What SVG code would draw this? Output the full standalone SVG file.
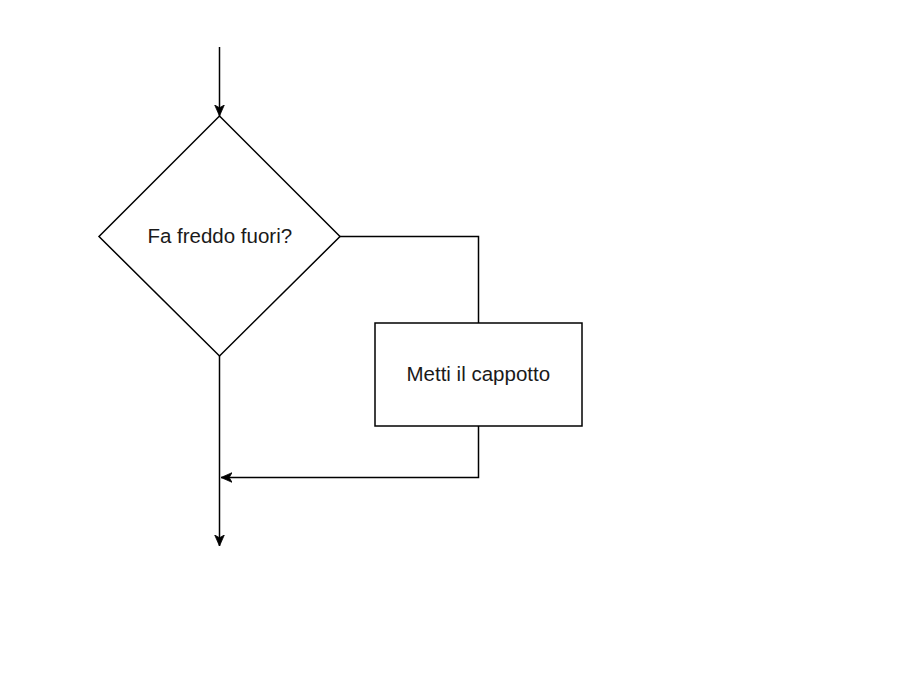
<svg xmlns="http://www.w3.org/2000/svg" width="911" height="684" viewBox="0 0 911 684">
<style>
.shape{fill:#ffffff;stroke:#000000;stroke-width:1.5}
.edge{fill:none;stroke:#000000;stroke-width:1.5}
.lbl{font-family:"Liberation Sans",Arial,sans-serif;font-size:20.5px;fill:#1a1a1a;text-anchor:middle}
</style>
<defs>
<marker id="arrow" markerUnits="userSpaceOnUse" markerWidth="14" markerHeight="12" viewBox="0 -6 14 12" refX="11" refY="0" orient="auto">
<path d="M0,-4.8 L11,0 L0,4.8 L2.8,0 Z" fill="#000000" stroke="#000000" stroke-width="0.8"/>
</marker>
</defs>
<rect width="911" height="684" fill="#ffffff"/>
<g id="connectors">
<path class="edge" d="M219.5,47 L219.5,116" marker-end="url(#arrow)"/>
<path class="edge" d="M340,236.5 L478.5,236.5 L478.5,323"/>
<path class="edge" d="M478.5,426 L478.5,477.5 L221,477.5" marker-end="url(#arrow)"/>
<path class="edge" d="M219.5,356 L219.5,546" marker-end="url(#arrow)"/>
</g>
<g id="decision">
<polygon class="shape" points="219.5,116 340,236.5 219.5,356 99,236.5"/>
<text class="lbl" x="219.8" y="243">Fa freddo fuori?</text>
</g>
<g id="action">
<rect class="shape" x="375" y="323" width="207" height="103"/>
<text class="lbl" x="478.3" y="380.5">Metti il cappotto</text>
</g>
</svg>
